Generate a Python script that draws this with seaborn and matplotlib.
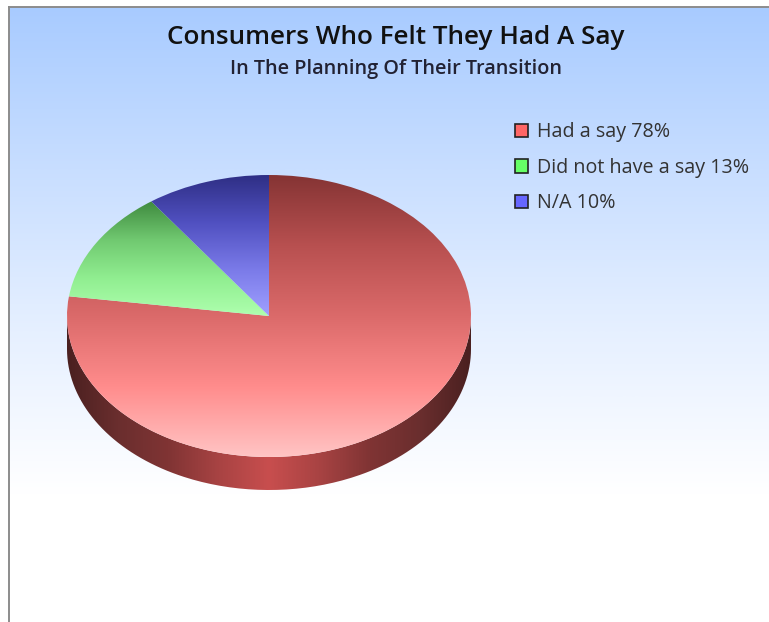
import numpy as np
import seaborn as sns
import matplotlib
matplotlib.use("Agg")
import matplotlib.pyplot as plt
from matplotlib.patches import PathPatch, Patch
from matplotlib.path import Path

categories = ["Had a say", "Did not have a say", "N/A"]
shares = [78, 13, 10]
swatch_colors = ["#FF6666", "#66FF66", "#6666FF"]
wedge_stops = [
    ["#853434", "#B85050", "#DB6A6A", "#FF8C8C", "#FFC4C4"],
    ["#3F8A3F", "#70C870", "#90EE90", "#AEFFAE"],
    ["#2F2F85", "#5050C0", "#7A7AE8", "#A0A0FF"],
]
wall_stops = ["#4A2020", "#6A2E2E", "#803434", "#A84343", "#C84E4E",
              "#A84343", "#803434", "#6A2E2E", "#4A2020"]
title = "Consumers Who Felt They Had A Say"
subtitle = "In The Planning Of Their Transition"

W, H = 769, 622
CX, CY, RX, RY, DEPTH = 269, 316, 202, 141, 33
FRAME_L, FRAME_T = 9, 7

sns.set_theme(style="white")
plt.rcParams["font.family"] = ["Open Sans", "DejaVu Sans"]

fig = plt.figure(figsize=(W / 100, H / 100), dpi=100, facecolor="white")
ax = fig.add_axes([FRAME_L / W, 0, (W - FRAME_L) / W, (H - FRAME_T) / H])


def px_x(p):
    return (p - CX) / RX


def px_y(p):
    return (CY - p) / RY


def frame_limits():
    ax.set_xlim(px_x(FRAME_L), px_x(W))
    ax.set_ylim(px_y(H), px_y(FRAME_T))


wedges, _ = ax.pie(shares, startangle=90, counterclock=False, radius=1,
                   center=(0, 0), wedgeprops=dict(facecolor="none", edgecolor="none", linewidth=0))
ax.set_aspect("auto")
frame_limits()
ax.set_frame_on(True)
ax.set_xticks([])
ax.set_yticks([])
for side, visible in dict(left=True, top=True, right=False, bottom=False).items():
    ax.spines[side].set_visible(visible)
    ax.spines[side].set_color("#8C8C8C")
    ax.spines[side].set_linewidth(1.4)

# Backdrop: pale blue fading to white
sky = sns.blend_palette(["#A8CBFF", "#C8DEFF", "#E6F0FF", "#FFFFFF"], n_colors=256, as_cmap=True)
ramp = np.linspace(0, 1, 512).reshape(-1, 1)
ax.imshow(ramp, cmap=sky, aspect="auto", zorder=0,
          extent=(px_x(FRAME_L), px_x(W), px_y(495), px_y(FRAME_T)))

# Rim of the disc, lit from the middle of the front edge
t = np.linspace(np.pi, 2 * np.pi, 200)
drop = DEPTH / RY
rim_x = np.r_[np.cos(t), np.cos(t[::-1])]
rim_y = np.r_[np.sin(t) - drop, np.sin(t[::-1])]
rim = PathPatch(Path(np.c_[rim_x, rim_y]), fc="none", ec="none", transform=ax.transData)
ax.add_patch(rim)
rim_cmap = sns.blend_palette(wall_stops, n_colors=256, as_cmap=True)
rim_img = ax.imshow(np.linspace(0, 1, 512).reshape(1, -1), cmap=rim_cmap, aspect="auto",
                    zorder=2, extent=(-1, 1, -1 - drop, 0))
rim_img.set_clip_path(rim)

# Top face: each wedge carries its own vertical gradient over its own height
for wedge, stops in zip(wedges, wedge_stops):
    arc = np.radians(np.linspace(wedge.theta1, wedge.theta2, 300))
    low = min(0, np.sin(arc).min())
    high = max(0, np.sin(arc).max())
    cmap = sns.blend_palette(stops, n_colors=256, as_cmap=True)
    img = ax.imshow(np.linspace(0, 1, 512).reshape(-1, 1), cmap=cmap, aspect="auto",
                    zorder=3, extent=(-1, 1, low, high), origin="upper")
    img.set_clip_path(wedge)

frame_limits()

fig.text(396 / W, 1 - 37 / H, title, ha="center", va="center",
         fontsize=18.8, fontweight="semibold", color="#111111")
fig.text(396 / W, 1 - 69 / H, subtitle, ha="center", va="center",
         fontsize=14.3, fontweight="semibold", color="#222233")

handles = [Patch(facecolor=c, edgecolor="#222222", linewidth=1.2) for c in swatch_colors]
labels = [f"{name} {value}%" for name, value in zip(categories, shares)]
fig.legend(handles, labels, loc="upper left", bbox_to_anchor=(497 / W, 1 - 104.5 / H),
           frameon=False, fontsize=14.2, labelcolor="#333333", handlelength=0.68,
           handleheight=0.68, handletextpad=0.44, labelspacing=0.79, borderpad=0.4)

fig.savefig("out.png", dpi=100, facecolor="white")
